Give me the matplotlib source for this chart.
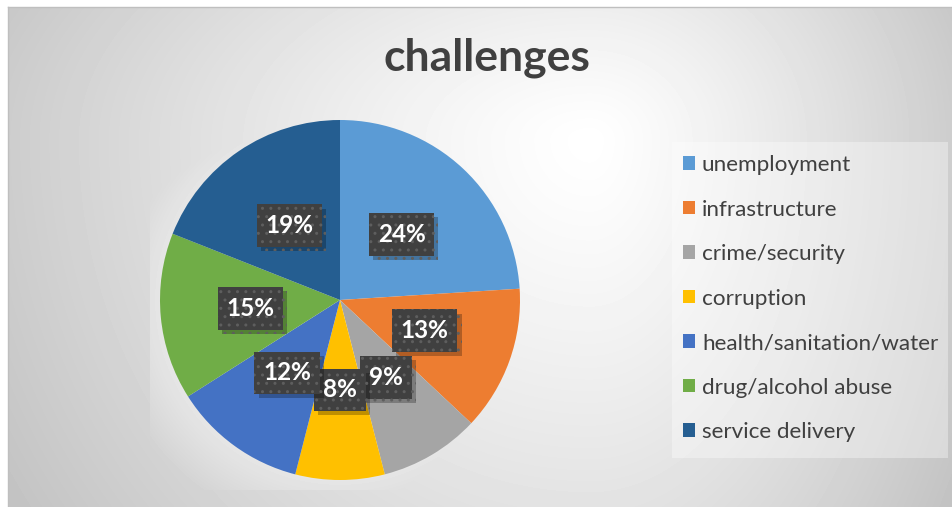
import numpy as np
import matplotlib
matplotlib.use("Agg")
import matplotlib.pyplot as plt
from matplotlib.patches import Patch, Rectangle
from matplotlib.path import Path
import matplotlib.patheffects as pe

plt.rcParams['font.family'] = ['Lato', 'DejaVu Sans']

categories = ['unemployment', 'infrastructure', 'crime/security', 'corruption',
              'health/sanitation/water', 'drug/alcohol abuse', 'service delivery']
shares = [24, 13, 9, 8, 12, 15, 19]
colors = ['#5B9BD5', '#ED7D31', '#A5A5A5', '#FFC000', '#4472C4', '#70AD47', '#255E91']
title = 'challenges'

W, H = 952, 507
fig = plt.figure(figsize=(W / 100, H / 100), dpi=100)

# chart area background: off-centre radial gradient plus a halo around the plot area
bg = fig.add_axes([8 / W, 0, (W - 8) / W, (H - 7) / H])
X, Y = np.meshgrid(np.arange(8, W) + 0.5, np.arange(7, H) + 0.5)
dx = X - 590
dy = Y - 140
sx = np.where(dx < 0, 640.0, 400.0)
sy = np.where(dy < 0, 350.0, 650.0)
d = np.sqrt((dx / sx) ** 2 + (dy / sy) ** 2)
v = np.clip(1 - 0.22 * d ** 1.2, 0.75, 1)
cx, cy, r = 340, 300, 180
inside = (X > 150) & (X < 530) & (Y > 110) & (Y < 490)
halo = 1 - 0.1 * (np.hypot(X - cx, Y - cy) / r) ** 2
v = np.where(inside, np.maximum(v, halo), v)
bg.imshow(v, cmap='gray', vmin=0, vmax=1, aspect='auto',
          extent=(8, W, H, 7), interpolation='bilinear')
bg.set_xlim(8, W)
bg.set_ylim(H, 7)
bg.set_xticks([])
bg.set_yticks([])
for s in ['right', 'bottom']:
    bg.spines[s].set_visible(False)
for s in ['top', 'left']:
    bg.spines[s].set_color('#bfbfbf')
    bg.spines[s].set_linewidth(1)

fig.text(487 / W, 1 - 58 / H, title, fontsize=32, fontweight='bold',
         color='#404040', ha='center', va='center')

# pie
ax = fig.add_axes([(cx - r) / W, (H - cy - r) / H, 2 * r / W, 2 * r / H])
wedges, texts, autotexts = ax.pie(shares, colors=colors, startangle=90,
                                  counterclock=False, autopct='%d%%',
                                  pctdistance=0.5, radius=1,
                                  wedgeprops=dict(linewidth=0))
ax.set_xlim(-1, 1)
ax.set_ylim(-1, 1)
ax.axis('off')


def label_box(x0, y0, width, height, mutation_size):
    # fixed-height box, wider padding on the sides
    xc = x0 + width / 2
    yc = y0 + height / 2
    hw = width / 2 + 0.36 * mutation_size
    hh = 0.87 * mutation_size
    verts = [(xc - hw, yc - hh), (xc + hw, yc - hh), (xc + hw, yc + hh),
             (xc - hw, yc + hh), (xc - hw, yc - hh)]
    return Path(verts, closed=True)


for t in autotexts:
    t.set_color('white')
    t.set_fontsize(17.5)
    t.set_fontweight('bold')
    t.set_bbox(dict(boxstyle=label_box, facecolor='#404040',
                    edgecolor='#5e5e5e', linewidth=0, hatch='..'))
    t.get_bbox_patch().set_path_effects([
        pe.SimplePatchShadow(offset=(3, -3), shadow_rgbFace='black', alpha=0.25),
        pe.Normal()])

# legend panel
fig.add_artist(Rectangle((672 / W, 1 - 458 / H), (948 - 672) / W, (458 - 142) / H,
                         transform=fig.transFigure, facecolor='white',
                         alpha=0.35, linewidth=0))
handles = [Patch(facecolor=c, edgecolor='none') for c in colors]
fig.legend(handles, categories, loc='upper left',
           bbox_to_anchor=(683 / W, 1 - 155 / H), frameon=False,
           fontsize=16.2, handlelength=0.54, handleheight=0.54,
           handletextpad=0.3, labelspacing=1.09, labelcolor='#404040',
           borderaxespad=0, borderpad=0)

fig.savefig('out.png', dpi=100)
